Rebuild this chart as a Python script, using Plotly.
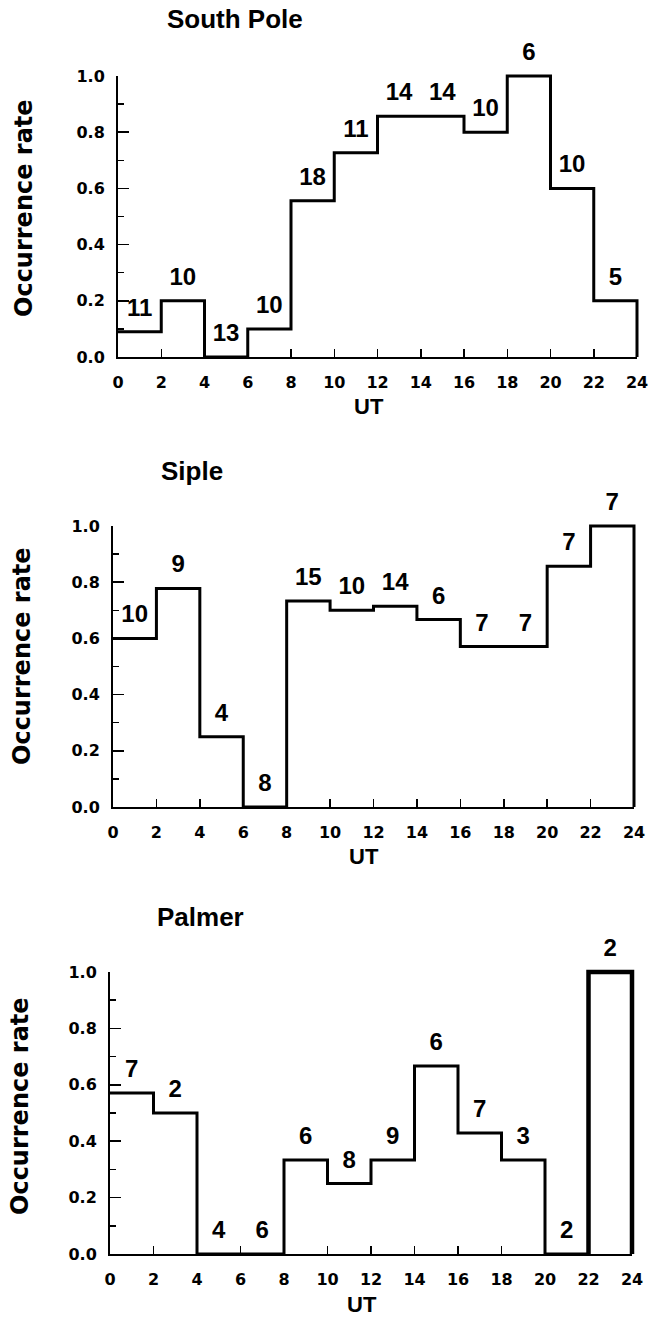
import plotly.graph_objects as go

# Occurrence rate per 2-hour UT bin and the number of events behind each bin
ut_edges = [0, 2, 4, 6, 8, 10, 12, 14, 16, 18, 20, 22, 24]

south_pole_rate = [0.09, 0.20, 0.0, 0.10, 0.556, 0.727, 0.857, 0.857, 0.80, 1.0, 0.60, 0.20]
south_pole_n = [11, 10, 13, 10, 18, 11, 14, 14, 10, 6, 10, 5]

siple_rate = [0.60, 0.778, 0.25, 0.0, 0.733, 0.70, 0.714, 0.667, 0.571, 0.571, 0.857, 1.0]
siple_n = [10, 9, 4, 8, 15, 10, 14, 6, 7, 7, 7, 7]

palmer_rate = [0.571, 0.50, 0.0, 0.0, 0.333, 0.25, 0.333, 0.667, 0.429, 0.333, 0.0, 1.0]
palmer_n = [7, 2, 4, 6, 6, 8, 9, 6, 7, 3, 2, 2]

station_names = ["South Pole", "Siple", "Palmer"]
y_ticks = [0.0, 0.2, 0.4, 0.6, 0.8, 1.0]
x_ticks = list(range(0, 25, 2))

W, H = 659, 1322

# Pixel frame of each panel: x of UT=0 and UT=24, y of rate=0 and rate=1
frames = [
    dict(x0=118, x1=637, yb=357, yt=76, title=(235, 19), ylab=(24, 208), xlab=(369, 406), highlight_last=False),
    dict(x0=113, x1=634, yb=807, yt=526, title=(192, 471), ylab=(22, 656), xlab=(364, 856), highlight_last=False),
    dict(x0=110, x1=632, yb=1254, yt=972, title=(200, 917), ylab=(20, 1106), xlab=(362, 1304), highlight_last=True),
]
series = [(south_pole_rate, south_pole_n), (siple_rate, siple_n), (palmer_rate, palmer_n)]

BOLD_TICK = dict(family="DejaVu Sans", size=16, color="black", weight="bold")
BOLD_TEXT = "Liberation Sans"
PAD = 14          # px of slack around the drawing axes so edge lines are not clipped
PAD_TOP = 48      # extra room above rate=1 for the count labels
LABEL_LIFT = 22   # px between a bin's top and the centre of its count label

fig = go.Figure()
layout = dict(
    width=W, height=H, autosize=False,
    margin=dict(l=0, r=0, t=0, b=0, pad=0, autoexpand=False),
    paper_bgcolor="white", plot_bgcolor="rgba(0,0,0,0)",
    showlegend=False,
)
annotations = []


def ax_id(letter, n):
    return letter if n == 1 else f"{letter}{n}"


for i, (fr, (rate, counts), name) in enumerate(zip(frames, series, station_names)):
    n = i + 1          # visible axes
    d = i + 4          # drawing axes (same scale, padded extent)
    xdom = [fr["x0"] / W, fr["x1"] / W]
    ydom = [(H - fr["yb"]) / H, (H - fr["yt"]) / H]
    xn, yn = ax_id("x", n), ax_id("y", n)

    layout[f"xaxis{n}"] = dict(
        domain=xdom, range=[ut_edges[0], ut_edges[-1]], anchor=yn, automargin=False,
        showline=True, linewidth=2, linecolor="black", mirror=False,
        ticks="inside", tickvals=x_ticks, ticklen=8, tickwidth=1.5, tickcolor="black",
        tickfont=BOLD_TICK, ticklabelstandoff=10,
        showgrid=False, zeroline=False, fixedrange=True,
    )
    layout[f"yaxis{n}"] = dict(
        domain=ydom, range=[y_ticks[0], y_ticks[-1]], anchor=xn, automargin=False,
        showline=True, linewidth=2, linecolor="black",
        ticks="inside", tickvals=y_ticks, tickformat=".1f", ticklen=11, tickwidth=1.5,
        tickcolor="black", tickfont=BOLD_TICK, ticklabelstandoff=8,
        minor=dict(ticks="inside", ticklen=6, tickwidth=1.5, tickcolor="black", dtick=0.1, tick0=0),
        showgrid=False, zeroline=False, fixedrange=True,
    )
    # frame trace so the axis pair is laid out as a subplot
    fig.add_trace(go.Scatter(
        x=[ut_edges[0], ut_edges[-1]], y=[y_ticks[0], y_ticks[-1]], mode="none",
        xaxis=xn, yaxis=yn, hoverinfo="skip",
    ))

    xpp = 24 / (fr["x1"] - fr["x0"])
    ypp = 1 / (fr["yb"] - fr["yt"])
    layout[f"xaxis{d}"] = dict(
        domain=[(fr["x0"] - PAD) / W, (fr["x1"] + PAD) / W], automargin=False,
        range=[-PAD * xpp, 24 + PAD * xpp], anchor=f"y{d}", visible=False, fixedrange=True,
    )
    layout[f"yaxis{d}"] = dict(
        domain=[(H - fr["yb"] - PAD) / H, (H - fr["yt"] + PAD_TOP) / H], automargin=False,
        range=[-PAD * ypp, 1 + PAD_TOP * ypp], anchor=f"x{d}", visible=False, fixedrange=True,
    )

    # Step outline of the histogram (hv: along the bin top, then down/up at the edge)
    nb = len(rate)
    if fr["highlight_last"]:
        k = nb - 1
        sx = ut_edges[:k] + [ut_edges[k]]
        sy = rate[:k] + [rate[k - 1]]
    else:
        sx = ut_edges[:nb] + [ut_edges[nb], ut_edges[nb]]
        sy = rate + [rate[-1], 0.0]
    fig.add_trace(go.Scatter(
        x=sx, y=sy, mode="lines", line=dict(color="black", width=3, shape="hv"),
        xaxis=f"x{d}", yaxis=f"y{d}", hoverinfo="skip",
    ))
    if fr["highlight_last"]:
        k = nb - 1
        fig.add_trace(go.Scatter(
            x=[ut_edges[k], ut_edges[k], ut_edges[k + 1], ut_edges[k + 1]],
            y=[0.0, rate[k], rate[k], 0.0],
            mode="lines", line=dict(color="black", width=4.5),
            xaxis=f"x{d}", yaxis=f"y{d}", hoverinfo="skip",
        ))

    # Event counts above each bin
    centers = [(ut_edges[k] + ut_edges[k + 1]) / 2 for k in range(nb)]
    fig.add_trace(go.Scatter(
        x=centers, y=[r + LABEL_LIFT * ypp for r in rate], mode="text",
        text=[str(c) for c in counts], textposition="middle center",
        textfont=dict(family=BOLD_TEXT, size=24, color="black", weight="bold"),
        cliponaxis=False, xaxis=f"x{d}", yaxis=f"y{d}", hoverinfo="skip",
    ))

    tx, ty = fr["title"]
    annotations.append(dict(
        x=tx / W, y=1 - ty / H, xref="paper", yref="paper", text=name, showarrow=False,
        xanchor="center", yanchor="middle",
        font=dict(family=BOLD_TEXT, size=26, color="black", weight="bold"),
    ))
    lx, ly = fr["ylab"]
    annotations.append(dict(
        x=lx / W, y=1 - ly / H, xref="paper", yref="paper", text="Occurrence rate",
        showarrow=False, textangle=-90, xanchor="center", yanchor="middle",
        font=dict(family="DejaVu Sans", size=24, color="black", weight="bold"),
    ))
    ux, uy = fr["xlab"]
    annotations.append(dict(
        x=ux / W, y=1 - uy / H, xref="paper", yref="paper", text="UT", showarrow=False,
        xanchor="center", yanchor="middle",
        font=dict(family=BOLD_TEXT, size=22, color="black", weight="bold"),
    ))

layout["annotations"] = annotations
fig.update_layout(**layout)
fig.write_html("out.html", config={"displayModeBar": False, "staticPlot": True})
